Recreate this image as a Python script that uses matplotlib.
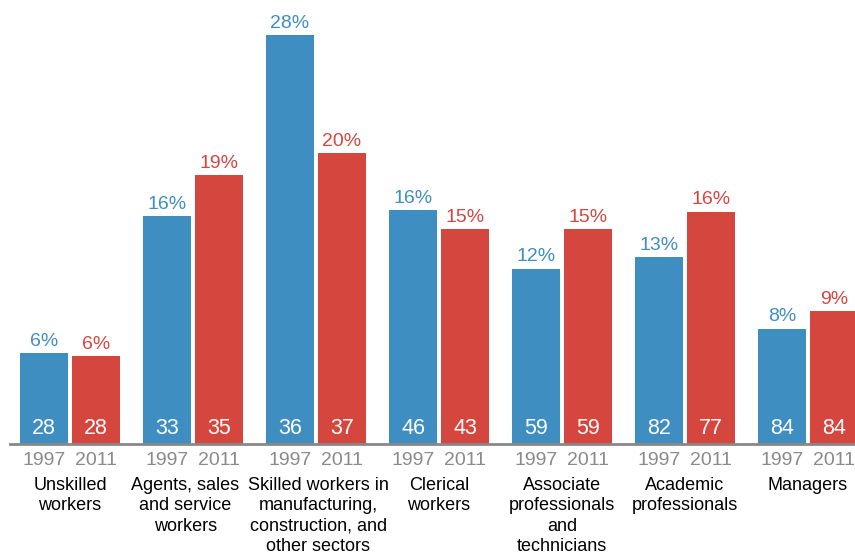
import numpy as np
import matplotlib
matplotlib.use("Agg")
import matplotlib.pyplot as plt

plt.rcParams["font.family"] = ["Liberation Sans", "DejaVu Sans"]

categories = ["Unskilled\nworkers", "Agents, sales\nand service\nworkers",
              "Skilled workers in\nmanufacturing,\nconstruction, and\nother sectors",
              "Clerical\nworkers", "Associate\nprofessionals\nand\ntechnicians",
              "Academic\nprofessionals", "Managers"]
years = ["1997", "2011"]
share_1997 = [6.2, 15.6, 28.0, 16.0, 12.0, 12.8, 7.9]
share_2011 = [6.0, 18.4, 19.9, 14.7, 14.7, 15.9, 9.1]
label_1997 = ["6%", "16%", "28%", "16%", "12%", "13%", "8%"]
label_2011 = ["6%", "19%", "20%", "15%", "15%", "16%", "9%"]
inner_1997 = [28, 33, 36, 46, 59, 82, 84]
inner_2011 = [28, 35, 37, 43, 59, 77, 84]

blue = "#3f8ec1"
red = "#d5463f"

fig = plt.figure(figsize=(8.55, 5.55), dpi=100)
ax = fig.add_axes([0, 0.2, 1, 0.8])

x = np.arange(len(categories))
off = 0.211
w = 0.39
b1 = ax.bar(x - off, share_1997, w, color=blue)
b2 = ax.bar(x + off, share_2011, w, color=red)

ax.set_xlim(-0.569, 6.382)
ax.set_ylim(0, 30.4)
ax.axis("off")
ax.axhline(0, xmin=0.0117, xmax=1, color="#888888", lw=2, clip_on=False)

for bars, labs, inner, col in [(b1, label_1997, inner_1997, blue),
                               (b2, label_2011, inner_2011, red)]:
    for bar, lab, n in zip(bars, labs, inner):
        cx = bar.get_x() + bar.get_width() / 2
        ax.annotate(lab, (cx, bar.get_height()), xytext=(0, 2.5),
                    textcoords="offset points", ha="center", va="bottom",
                    color=col, fontsize=14)
        ax.annotate(str(n), (cx, 0), xytext=(0, 11.5), textcoords="offset points",
                    ha="center", va="center", color="white", fontsize=15.5)

# small horizontal nudges (points) so neighbouring labels don't collide
nudge = [0, -5.5, 1.5, 0, 0, 0, 0]
for i, cat in enumerate(categories):
    for j, yr in enumerate(years):
        ax.annotate(yr, (i + (2 * j - 1) * off, 0), xytext=(0, -12),
                    textcoords="offset points", ha="center", va="center",
                    color="#8a8a8a", fontsize=14, annotation_clip=False)
    ax.annotate(cat, (i, 0), xytext=(nudge[i], -23.5), textcoords="offset points",
                ha="center", va="top", color="black", fontsize=13,
                linespacing=1.27, annotation_clip=False)

fig.savefig("out.png", dpi=100)
